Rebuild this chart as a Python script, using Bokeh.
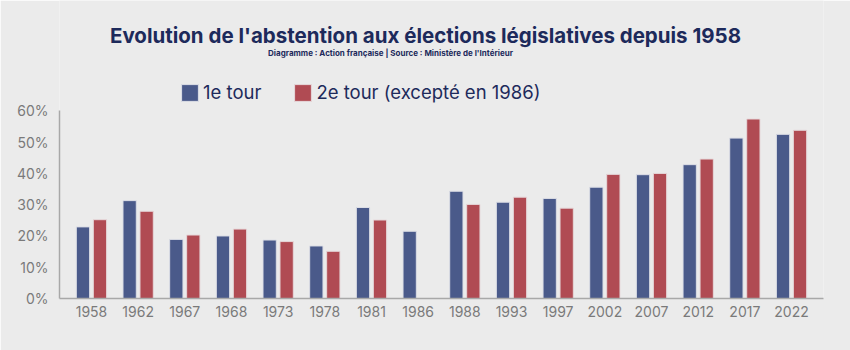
from bokeh.plotting import figure
from bokeh.models import (ColumnDataSource, FactorRange, Range1d, Legend, LegendItem, Label,
                          FixedTicker, CustomJSTickFormatter)
from bokeh.transform import dodge
from bokeh.embed import file_html
from bokeh.resources import INLINE

years = ["1958", "1962", "1967", "1968", "1973", "1978", "1981", "1986",
         "1988", "1993", "1997", "2002", "2007", "2012", "2017", "2022"]
tour1 = [22.9, 31.3, 18.9, 20.0, 18.7, 16.8, 29.1, 21.5,
         34.3, 30.8, 32.0, 35.6, 39.6, 42.8, 51.3, 52.5]
tour2 = [25.2, 27.9, 20.3, 22.2, 18.2, 15.1, 25.1, float("nan"),
         30.1, 32.4, 28.9, 39.7, 40.0, 44.6, 57.4, 53.8]
y_ticks = [0, 10, 20, 30, 40, 50, 60]

title_text = "Evolution de l'abstention aux élections législatives depuis 1958"
subtitle_text = "Diagramme : Action française | Source : Ministère de l'Intérieur"
legend_labels = ["1e tour", "2e tour (excepté en 1986)"]

BG = "#ebebeb"
BLUE = "#4a5a8a"
RED = "#b04b53"
NAVY = "#1d2a5b"
GRAY = "#7a7a7a"
FONT = "Inter"

src = ColumnDataSource(dict(year=years, t1=tour1, t2=tour2))

# frame spans the full height so that titles and legend live inside it;
# the y axis line is bounded to 0..60 %
p = figure(width=850, height=350, output_backend="svg", toolbar_location=None,
           x_range=FactorRange(factors=years, range_padding=0.185, range_padding_units="absolute"),
           y_range=Range1d(0, 95.3),
           background_fill_color=BG, border_fill_color=BG,
           min_border_left=59, min_border_right=27, min_border_top=0, min_border_bottom=52)
p.outline_line_color = None

r1 = p.vbar(x=dodge("year", -0.182, range=p.x_range), top="t1", width=0.285, source=src,
            fill_color=BLUE, line_color="#dcdee6", line_width=1)
r2 = p.vbar(x=dodge("year", 0.182, range=p.x_range), top="t2", width=0.285, source=src,
            fill_color=RED, line_color="#e6d8da", line_width=1)

p.xgrid.grid_line_color = None
p.ygrid.grid_line_color = None

for ax in (p.xaxis[0], p.yaxis[0]):
    ax.axis_line_color = "#a8a8a8"
    ax.axis_line_width = 1.5
    ax.major_tick_line_color = None
    ax.minor_tick_line_color = None
    ax.major_label_text_color = GRAY
    ax.major_label_text_font = FONT
    ax.major_label_text_font_size = "14px"

p.xaxis.major_label_standoff = 1
p.yaxis.major_label_standoff = 5
p.yaxis.bounds = (0, 60)
p.yaxis.ticker = FixedTicker(ticks=y_ticks)
p.yaxis.formatter = CustomJSTickFormatter(code="return tick + '%'")

legend = Legend(items=[LegendItem(label=legend_labels[0], renderers=[r1]),
                       LegendItem(label=legend_labels[1], renderers=[r2])],
                orientation="horizontal", location=(120, 195),
                background_fill_alpha=0, border_line_color=None,
                padding=0, margin=0, spacing=31, label_standoff=3,
                glyph_width=21, glyph_height=21,
                label_text_font=FONT, label_text_font_size="18.5px", label_text_color=NAVY)
p.add_layout(legend, "center")

p.add_layout(Label(x=366, y=298 - 35, x_units="screen", y_units="screen", text=title_text,
                   text_align="center", text_baseline="middle", text_font=FONT,
                   text_font_size="20.5px", text_font_style="bold", text_color=NAVY))
p.add_layout(Label(x=331, y=298 - 52, x_units="screen", y_units="screen", text=subtitle_text,
                   text_align="center", text_baseline="middle", text_font=FONT,
                   text_font_size="8px", text_font_style="bold", text_color=NAVY))

open("out.html", "w").write(file_html(p, INLINE))
